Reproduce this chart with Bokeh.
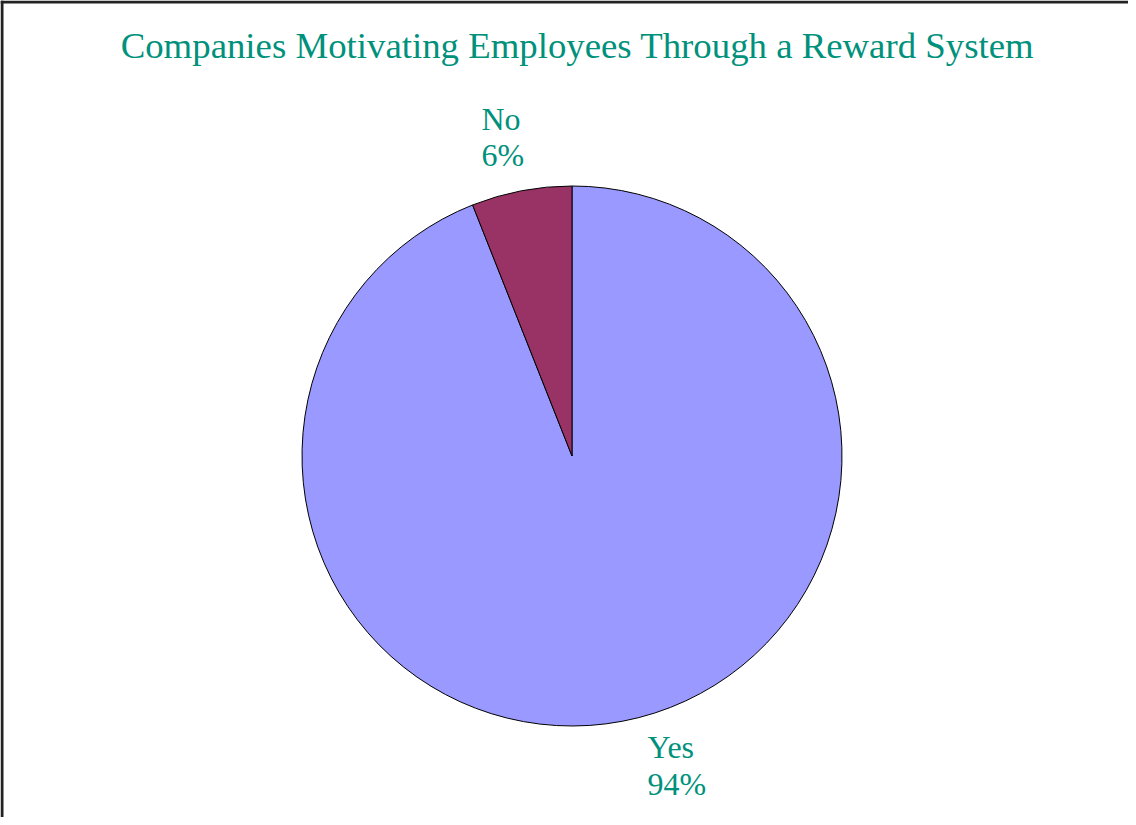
from bokeh.plotting import figure
from bokeh.models import Range1d, Span, ColumnDataSource
from bokeh.core.properties import value
from bokeh.embed import file_html
from bokeh.resources import INLINE
import math

# data
categories = ["Yes", "No"]
percents = [94, 6]
colors = ["#9999FF", "#993366"]
title_text = "Companies Motivating Employees Through a Reward System"

W, H = 1128, 817
TEAL = "#00917C"
FONT = value("Liberation Serif")

p = figure(width=W, height=H, x_range=Range1d(0, W), y_range=Range1d(0, H),
           output_backend="svg", toolbar_location=None, min_border=0)
p.axis.visible = False
p.grid.visible = False
p.outline_line_color = None
p.background_fill_color = "white"
p.border_fill_color = "white"

# pie geometry (page coords -> data coords)
cx, cy, r = 571.5, 825 - 463.5, 270

# No slice starts at 12 o'clock and goes counterclockwise; Yes fills the rest
total = sum(percents)
no_ang = percents[1] / total * 2 * math.pi
start = [math.pi / 2 + no_ang, math.pi / 2]
end = [math.pi / 2 + 2 * math.pi, math.pi / 2 + no_ang]
src = ColumnDataSource(dict(cat=categories, start=start, end=end, color=colors))
p.wedge(x=cx, y=cy, radius=r, start_angle="start", end_angle="end",
        fill_color="color", line_color="black", line_width=1, source=src)

DY = 13  # empirical baseline correction

def lab(x_page, y_page, txt, size="32px"):
    p.text(x=[x_page - 8], y=[825 - y_page + DY], text=[txt], text_font=FONT,
           text_font_size=size, text_color=TEAL, text_baseline="alphabetic",
           text_align="left")

lab(489, 139, categories[1])
lab(489, 175, f"{percents[1]}%")
lab(655, 767, categories[0])
lab(655, 804, f"{percents[0]}%")

# title
p.text(x=[585 - 8], y=[825 - 66 + DY], text=[title_text], text_font=FONT,
       text_font_size="36.8px", text_color=TEAL, text_baseline="alphabetic",
       text_align="center")

# frame border (top and left visible)
p.add_layout(Span(location=1.5, dimension="height", line_color="#222222", line_width=3))
p.add_layout(Span(location=H - 1.5, dimension="width", line_color="#222222", line_width=3))

open("out.html", "w").write(file_html(p, INLINE))
